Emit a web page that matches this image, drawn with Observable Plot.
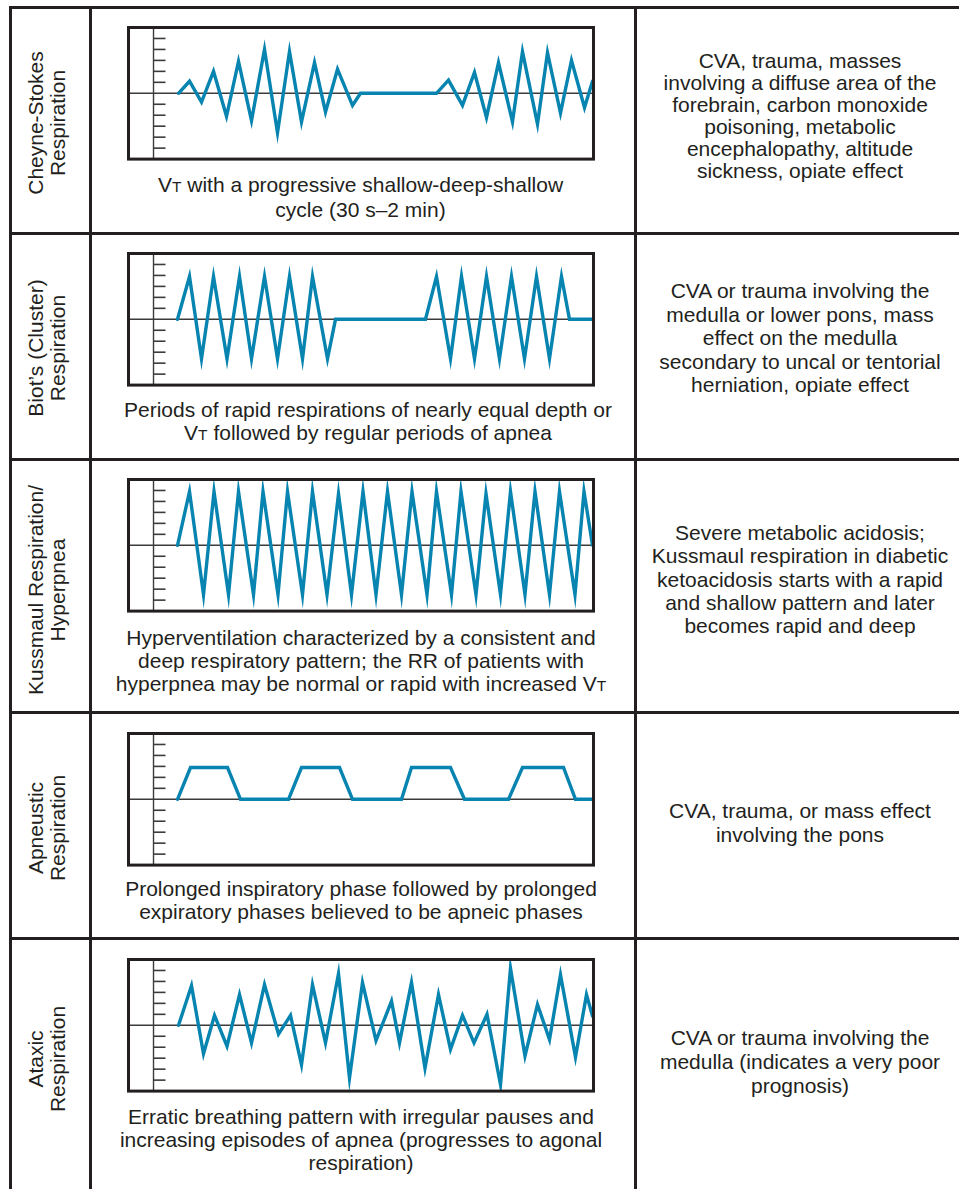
<!DOCTYPE html>
<html><head><meta charset="utf-8">
<script src="https://cdn.jsdelivr.net/npm/d3@7"></script>
<script src="https://cdn.jsdelivr.net/npm/@observablehq/plot@0.6"></script>
<style>
html,body{margin:0;padding:0;background:#fff;}
#page{position:relative;width:959px;height:1189px;overflow:hidden;background:#fff;font-family:"Liberation Sans",Arial,Helvetica,sans-serif;color:#231f20;}
.hl{position:absolute;height:3px;background:#231f20;}
.vl{position:absolute;width:3px;background:#231f20;}
.txt{position:absolute;font-size:21px;text-align:center;white-space:nowrap;}
.rot{position:absolute;font-size:21px;line-height:22px;text-align:center;white-space:nowrap;transform:translate(-50%,-50%) rotate(-90deg);}
.chart{position:absolute;}
.sc{font-size:0.74em;}
</style></head><body><div id="page"></div>
<script>
// ---- text content ----
const rowLabels = [
  ["Cheyne-Stokes", "Respiration"],
  ["Biot\u2019s (Cluster)", "Respiration"],
  ["Kussmaul Respiration/", "Hyperpnea"],
  ["Apneustic", "Respiration"],
  ["Ataxic", "Respiration"]
];
const descriptions = [
  ["VT with a progressive shallow-deep-shallow", "cycle (30 s\u20132 min)"],
  ["Periods of rapid respirations of nearly equal depth or", "VT followed by regular periods of apnea"],
  ["Hyperventilation characterized by a consistent and", "deep respiratory pattern; the RR of patients with", "hyperpnea may be normal or rapid with increased VT"],
  ["Prolonged inspiratory phase followed by prolonged", "expiratory phases believed to be apneic phases"],
  ["Erratic breathing pattern with irregular pauses and", "increasing episodes of apnea (progresses to agonal", "respiration)"]
];
const causes = [
  ["CVA, trauma, masses", "involving a diffuse area of the", "forebrain, carbon monoxide", "poisoning, metabolic", "encephalopathy, altitude", "sickness, opiate effect"],
  ["CVA or trauma involving the", "medulla or lower pons, mass", "effect on the medulla", "secondary to uncal or tentorial", "herniation, opiate effect"],
  ["Severe metabolic acidosis;", "Kussmaul respiration in diabetic", "ketoacidosis starts with a rapid", "and shallow pattern and later", "becomes rapid and deep"],
  ["CVA, trauma, or mass effect", "involving the pons"],
  ["CVA or trauma involving the", "medulla (indicates a very poor", "prognosis)"]
];

// ---- waveform data (time units, tidal volume units) ----
const yTicks = [-5, -4, -3, -2, -1, 1, 2, 3, 4, 5];
const xDomain = [-2.5, 44];
const yDomain = [-6, 6];

const cheyneT = [2.5, 3.6, 4.8, 6.0, 7.3, 8.5, 9.8, 11.1, 12.4, 13.6, 14.8, 16.1, 17.2, 18.4, 19.9, 20.7, 28.3, 29.5, 30.9, 32.1, 33.3, 34.5, 35.9, 36.9, 38.4, 39.4, 40.7, 41.8, 43.1, 43.9];
const cheyneV = [0, 1.1, -0.8, 2.0, -2.1, 2.9, -2.5, 4.0, -3.6, 3.8, -2.6, 2.8, -1.7, 2.2, -1.1, 0, 0, 1.2, -1.1, 1.9, -2.2, 2.8, -2.6, 3.8, -2.8, 3.7, -1.8, 3.0, -1.3, 1.1];

const biotT = [2.4, 3.6, 4.8, 6.0, 7.35, 8.6, 9.8, 11.1, 12.4, 13.6, 14.9, 15.9, 17.4, 18.2, 27.2, 28.3, 29.7, 30.8, 32.1, 33.3, 34.6, 35.8, 37.1, 38.3, 39.6, 40.8, 41.6, 43.9];
const biotV = [0, 3.9, -3.6, 3.9, -3.6, 3.9, -3.6, 3.9, -3.6, 3.9, -3.6, 3.9, -3.6, 0, 0, 3.9, -3.6, 3.9, -3.6, 3.9, -3.6, 3.9, -3.6, 3.9, -3.6, 3.9, 0, 0];

const kussT = [2.4, 3.6, 5.0, 6.05, 7.5, 8.5, 10.0, 10.95, 12.45, 13.4, 14.9, 15.9, 17.35, 18.5, 19.8, 20.95, 22.25, 23.4, 24.8, 25.85, 27.35, 28.3, 29.8, 30.75, 32.25, 33.25, 34.7, 35.7, 37.15, 38.15, 39.6, 40.6, 42.15, 43.05, 43.9];
const kussV = [0, 4.9, -4.5, 4.9, -4.5, 4.9, -4.5, 4.9, -4.5, 4.9, -4.5, 4.9, -4.5, 4.7, -4.5, 4.9, -4.5, 4.9, -4.5, 4.9, -4.5, 4.9, -4.5, 4.9, -4.5, 4.7, -4.5, 4.9, -4.5, 4.9, -4.5, 4.9, -4.5, 4.9, 0];

const apneuT = [2.4, 3.7, 7.4, 8.7, 13.5, 14.8, 18.6, 19.9, 24.8, 25.8, 29.7, 31.1, 35.5, 36.9, 41.0, 42.2, 43.9];
const apneuV = [0, 2.9, 2.9, 0, 0, 2.9, 2.9, 0, 0, 2.9, 2.9, 0, 0, 2.9, 2.9, 0, 0];

const ataxT = [2.5, 3.8, 5.0, 6.1, 7.35, 8.6, 9.8, 11.1, 12.5, 13.7, 14.8, 15.9, 17.2, 18.5, 19.6, 20.9, 22.25, 23.8, 24.6, 25.8, 27.15, 28.5, 29.7, 30.9, 32.05, 33.35, 34.7, 35.7, 37.15, 38.4, 39.6, 40.7, 42.2, 43.3, 43.9];
const ataxV = [0, 3.6, -2.6, 0.9, -1.9, 2.8, -1.6, 3.7, -0.8, 0.9, -3.6, 3.7, -1.6, 4.7, -4.8, 3.9, -1.4, 2.2, -1.6, 3.9, -3.9, 2.8, -2.2, 0.9, -1.6, 1.0, -5.4, 5.2, -2.8, 1.9, -1.3, 4.6, -2.9, 2.8, 0.85];

const patterns = [[cheyneT, cheyneV], [biotT, biotV], [kussT, kussV], [apneuT, apneuV], [ataxT, ataxV]];

// ---- layout (pixels) ----
const rowLines = [7, 233, 459, 712.5, 938.5];
const colLines = [10, 90, 635];
const boxLeft = 128, boxW = 465, boxH = 131.6, pad = 6;
const boxTops = [26.7, 252.7, 479, 732.7, 959.3];
const labelX = 47;
const labelY = [123, 348, 590, 828, 1059];
const descX = [360.5, 368, 361, 361, 361];
const descBase = [191.5, 416.7, 644.3, 896, 1123.3];
const descLH = 23.3;
const causeX = 800;
const causeBase = [68.3, 298.3, 540, 818.3, 1045];
const causeLH = [22, 23.5, 23.2, 23.4, 24];
const BASE_OFF = 18.8; // baseline offset in a 21px line

const page = document.getElementById("page");
function el(cls, css, html) {
  const d = document.createElement("div");
  d.className = cls;
  Object.assign(d.style, css);
  if (html != null) d.innerHTML = html;
  page.appendChild(d);
  return d;
}
const fmt = s => s.replace(/\bVT\b/g, 'V<span class="sc">T</span>');

// table rules
rowLines.forEach(y => el("hl", {left: "8.5px", right: "0px", top: (y - 1.5) + "px"}));
colLines.forEach(x => el("vl", {left: (x - 1.5) + "px", top: "5.5px", bottom: "0px"}));

function chart(T, V) {
  const data = T.map((t, i) => ({t, v: V[i]}));
  return Plot.plot({
    width: boxW + 2 * pad,
    height: boxH + 2 * pad,
    marginLeft: pad, marginRight: pad, marginTop: pad, marginBottom: pad,
    x: {domain: xDomain, axis: null},
    y: {domain: yDomain, axis: null},
    style: {background: "transparent", overflow: "visible"},
    marks: [
      Plot.ruleY(yTicks, {x1: 0, x2: 1.25, stroke: "#3b3b3b", strokeWidth: 1.6}),
      Plot.ruleX([0], {stroke: "#3b3b3b", strokeWidth: 1.4}),
      Plot.ruleY([0], {stroke: "#3b3b3b", strokeWidth: 1.4}),
      Plot.line(data, {x: "t", y: "v", stroke: "#0784b0", strokeWidth: 3.4, strokeLinejoin: "miter", strokeMiterlimit: 10, clip: true}),
      Plot.frame({stroke: "#231f20", strokeWidth: 3})
    ]
  });
}

for (let i = 0; i < 5; i++) {
  // rotated row label
  el("rot", {left: labelX + "px", top: labelY[i] + "px"}, rowLabels[i].join("<br>"));
  // chart
  const c = el("chart", {left: (boxLeft - pad) + "px", top: (boxTops[i] - pad) + "px"});
  c.appendChild(chart(patterns[i][0], patterns[i][1]));
  // description
  el("txt", {left: (descX[i] - 300) + "px", width: "600px", top: (descBase[i] - BASE_OFF) + "px", lineHeight: descLH + "px"},
     descriptions[i].map(fmt).join("<br>"));
  // causes
  el("txt", {left: (causeX - 170) + "px", width: "340px", top: (causeBase[i] - BASE_OFF - (causeLH[i] - 23) / 2) + "px", lineHeight: causeLH[i] + "px"},
     causes[i].join("<br>"));
}
</script></body></html>
